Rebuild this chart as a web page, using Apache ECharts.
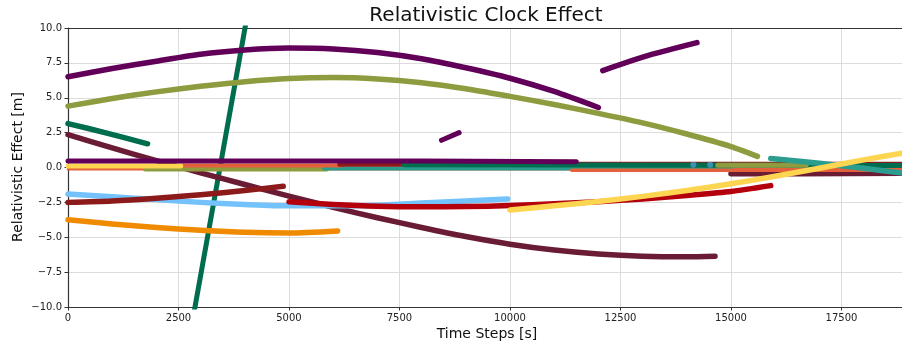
<!DOCTYPE html>
<html><head><meta charset="utf-8">
<script src="https://cdn.jsdelivr.net/npm/echarts@6/dist/echarts.min.js"></script>
<style>html,body{margin:0;padding:0;background:#fff}#c{width:902px;height:347px}</style>
</head><body><div id="c"></div>
<script>
// ---- data (time [s], effect [m]) ----
const xTicks = [0, 2500, 5000, 7500, 10000, 12500, 15000, 17500];
const yTicks = [-10, -7.5, -5, -2.5, 0, 2.5, 5, 7.5, 10];
const steepGreen = [[2800,-11.3],[2873,-10],[3439,0],[4005,10],[4100,11.7]];
const maroonCurve = [[0,2.35],[1000,1.4],[2000,0.5],[3000,-0.38],[4000,-1.22],[5000,-2.05],[6000,-2.85],[7000,-3.6],[8000,-4.3],[9000,-4.95],[10000,-5.5],[11000,-5.92],[12000,-6.2],[13000,-6.36],[14000,-6.4],[14640,-6.36]];
const purpleArc = [[0,6.5],[1000,7.1],[2000,7.62],[3000,8.12],[4000,8.42],[5000,8.56],[6000,8.5],[7000,8.25],[8000,7.8],[9000,7.15],[10000,6.4],[11000,5.45],[12000,4.3]];
const purpleArc2 = [[12100,6.95],[13150,8.05],[14230,8.95]];
const purpleShort = [[8450,1.95],[8850,2.5]];
const oliveArc = [[0,4.4],[1000,4.95],[2000,5.42],[3000,5.82],[4000,6.15],[5000,6.38],[6000,6.45],[7000,6.35],[8000,6.08],[9000,5.65],[10000,5.1],[11000,4.52],[12000,3.88],[13000,3.2],[14000,2.4],[15000,1.5],[15600,0.8]];
const greenShort = [[0,3.15],[900,2.45],[1800,1.7]];
const lightBlue = [[0,-1.9],[1000,-2.1],[2000,-2.3],[3000,-2.5],[4000,-2.65],[5000,-2.75],[6000,-2.75],[7000,-2.7],[8000,-2.55],[9000,-2.4],[9950,-2.25]];
const darkRedRise = [[0,-2.5],[1000,-2.4],[2000,-2.2],[3000,-1.95],[4000,-1.65],[4870,-1.35]];
const redCurve = [[5000,-2.45],[6000,-2.65],[7000,-2.78],[8000,-2.82],[9000,-2.8],[10000,-2.73],[11000,-2.6],[12000,-2.45],[13000,-2.25],[14000,-2.0],[15000,-1.72],[15900,-1.3]];
const orangeCurve = [[0,-3.75],[1000,-4.05],[2000,-4.3],[3000,-4.5],[4000,-4.65],[5000,-4.7],[6100,-4.55]];
const yellowRise = [[10000,-3.05],[11000,-2.75],[12000,-2.43],[13000,-2.07],[14000,-1.65],[15000,-1.17],[16000,-0.63],[17000,-0.05],[18000,0.55],[18870,1.02]];
const maroonFlat = [[15000,-0.45],[16500,-0.45],[18870,-0.42]];
const tealDescend = [[15900,0.65],[17000,0.3],[18000,-0.05],[18870,-0.4]];
const tomatoThin = [[0,-0.13],[18870,-0.13]];
const oliveBandLow = [[1750,-0.1],[5850,-0.1]];
const tealBand = [[5800,-0.07],[15000,-0.07]];
const tomatoBand = [[2550,0.15],[6200,0.15]];
const tomatoLow = [[11400,-0.2],[18870,-0.2]];
const darkRedBand = [[6150,0.24],[18870,0.24]];
const greenBand = [[7600,0.2],[18870,0.15]];
const oliveBandHigh = [[14700,0.17],[16700,0.17]];
const steelDots = [[14150,0.2],[14530,0.2]];
const yellowBand = [[0,0.1],[2550,0.1]];
const purpleBand = [[0,0.47],[8000,0.47],[11500,0.42]];

const chart = echarts.init(document.getElementById('c'), null, {renderer:'canvas'});
const F = 'DejaVu Sans';
function line(data, color, w, z, smooth) {
  return {type:'line', data, showSymbol:false, symbol:'none', smooth: smooth===undefined?0.25:smooth, z: z||2,
    lineStyle:{color, width:w||5.5, cap:'round', join:'round'}, silent:true, animation:false};
}
const fmtY = v => (v<0?'\u2212':'') + Math.abs(v).toFixed(1);
chart.setOption({
  animation:false,
  grid:{left:68, right:0, top:28, bottom:40, containLabel:false, outerBoundsMode:'none'},
  xAxis:[{type:'value', min:0, max:18870, interval:2500,
    axisLine:{show:true, onZero:false, lineStyle:{color:'#333', width:1.2}},
    axisTick:{show:true, length:3.5, lineStyle:{color:'#333'}},
    axisLabel:{show:true, margin:6, color:'#222', fontFamily:F, fontSize:10, showMaxLabel:false,
      formatter: v => xTicks.includes(v) ? String(v) : ''},
    splitLine:{show:true, lineStyle:{color:'#dcdcdc', width:1}}},
   {type:'value', position:'top', min:0, max:18870, axisLine:{show:true, onZero:false, lineStyle:{color:'#333', width:1.2}},
    axisTick:{show:false}, axisLabel:{show:false}, splitLine:{show:false}}],
  yAxis:{type:'value', min:-10, max:10, interval:2.5,
    axisLine:{show:true, onZero:false, lineStyle:{color:'#333', width:1.2}},
    axisTick:{show:true, length:3.5, lineStyle:{color:'#333'}},
    axisLabel:{margin:6, color:'#222', fontFamily:F, fontSize:10, formatter: v => yTicks.includes(v)? fmtY(v): ''},
    splitLine:{show:true, lineStyle:{color:'#dcdcdc', width:1}}},
  graphic:[
    {type:'text', x:486, y:16, style:{text:'Relativistic Clock Effect', font:'20px "DejaVu Sans"', fill:'#111', textAlign:'center', textVerticalAlign:'middle'}},
    {type:'text', x:487, y:334, style:{text:'Time Steps [s]', font:'14px "DejaVu Sans"', fill:'#111', textAlign:'center', textVerticalAlign:'middle'}},
    {type:'text', x:18, y:167, rotation:Math.PI/2, style:{text:'Relativistic Effect [m]', font:'14px "DejaVu Sans"', fill:'#111', textAlign:'center', textVerticalAlign:'middle'}}
  ],
  series:[
    line(steepGreen,'#006d4f',5,2,false),
    line(maroonCurve,'#6b1c35'),
    line(purpleArc,'#620059'),
    line(purpleArc2,'#620059'),
    line(purpleShort,'#620059',5,2,false),
    line(oliveArc,'#8e9b3e'),
    line(greenShort,'#006d4f'),
    line(lightBlue,'#73c2fb'),
    line(darkRedRise,'#8c1a1a'),
    line(redCurve,'#b3000c'),
    line(orangeCurve,'#f08a00'),
    line(maroonFlat,'#6b1c35',5.5,3,false),
    line(tomatoThin,'#e4603a',2.5,4,false),
    line(oliveBandLow,'#8e9b3e',5,4,false),
    line(tealBand,'#2a9d8f',4,4,false),
    line(tomatoBand,'#e4603a',4,4,false),
    line(tomatoLow,'#e4603a',3.5,4,false),
    line(darkRedBand,'#8c1a1a',5,4,false),
    line(greenBand,'#006d4f',5,5,false),
    line(oliveBandHigh,'#8e9b3e',5,5,false),
    {type:'scatter', data:steelDots, symbolSize:6, z:5, itemStyle:{color:'#4a9bc0'}, silent:true, animation:false},
    line(yellowBand,'#fdd550',5,5,false),
    line(purpleBand,'#620059',5,6,false),
    line(tealDescend,'#2a9d8f',5.5,6),
    line(yellowRise,'#fdd550',5.5,7)
  ]
});
</script></body></html>
